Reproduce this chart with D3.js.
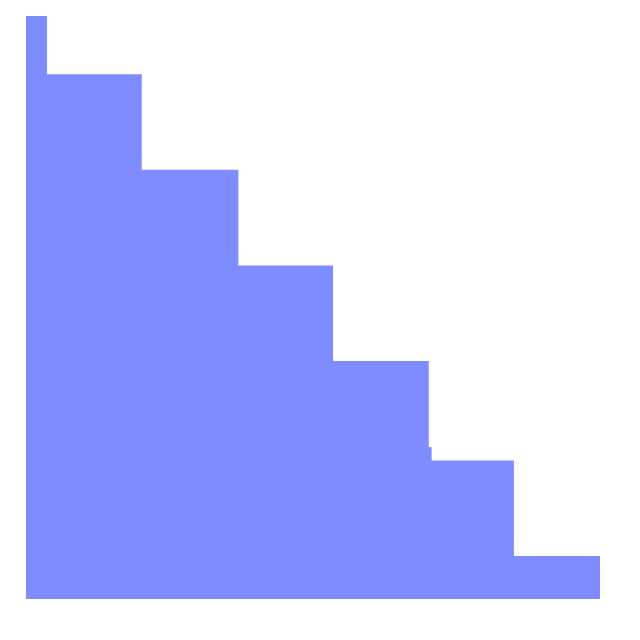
<!DOCTYPE html>
<html>
<head>
<meta charset="utf-8">
<script src="https://cdn.jsdelivr.net/npm/d3@7"></script>
<style>
  body { margin: 0; background: #fff; }
</style>
</head>
<body>
<div id="chart"></div>
<script>
// step boundaries (x) and level after each boundary (y)
var xs = [0, 0.22, 1.21, 2.22, 3.21, 4.21, 4.24, 5.1, 6];
var ys = [6.1, 5.49, 4.49, 3.49, 2.49, 1.59, 1.45, 0.45, 0.45];

var margin = {top: 16, right: 40, bottom: 41, left: 26};
var width = 640 - margin.left - margin.right,
    height = 640 - margin.top - margin.bottom;

var svg = d3.select("#chart").append("svg")
    .attr("width", 640)
    .attr("height", 640)
    .append("g")
    .attr("transform", "translate(" + margin.left + "," + margin.top + ")");

var data = xs.map(function(x, i) { return {x: x, y: ys[i]}; });

var xScale = d3.scaleLinear().domain([0, 6]).range([0, width]);
var yScale = d3.scaleLinear().domain([0, 6.1]).range([height, 0]);

var area = d3.area()
    .curve(d3.curveStepAfter)
    .x(function(d) { return xScale(d.x); })
    .y0(yScale(0))
    .y1(function(d) { return yScale(d.y); });

svg.append("path")
    .datum(data)
    .attr("fill", "#7f8cff")
    .attr("d", area);
</script>
</body>
</html>
